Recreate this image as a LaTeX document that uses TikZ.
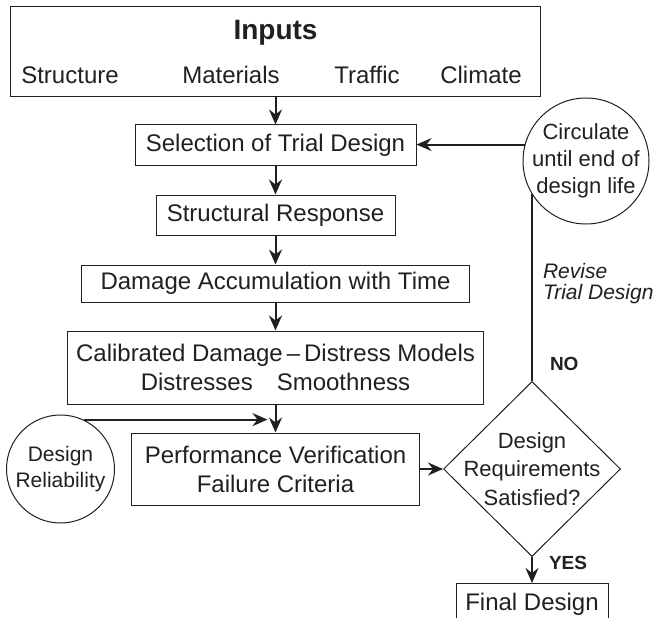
\documentclass[tikz,border=0pt]{standalone}
\usepackage{fontspec}
\setmainfont{Liberation Sans}
\usetikzlibrary{arrows.meta,positioning,shapes.geometric}
\definecolor{ink}{RGB}{35,31,32}
\tikzset{
  box/.style      = {draw=ink, rectangle, line width=1pt, inner sep=0pt, align=center,
                     font=\fontsize{24}{29}\selectfont},
  bubble/.style   = {draw=ink, circle, line width=1pt, inner sep=0pt, align=center},
  decision/.style = {draw=ink, diamond, line width=1pt, inner sep=-14pt, align=center,
                     minimum width=177pt, minimum height=175pt, font=\fontsize{22}{28.5}\selectfont},
  post/.style     = {-{Stealth[length=15pt,width=13pt,inset=5pt]}, line width=2pt, draw=ink},
  link/.style     = {line width=2pt, draw=ink},
  word/.style     = {inner sep=0pt, text=ink, font=\fontsize{24}{29}\selectfont},
  note/.style     = {inner sep=0pt, text=ink, align=left, font=\fontsize{21}{21}\selectfont\itshape},
  answer/.style   = {inner sep=0pt, text=ink, font=\fontsize{19}{23}\selectfont\bfseries}
}

\begin{document}
\begin{tikzpicture}[x=1pt, y=-1pt, node distance=28pt, text=ink]
  \useasboundingbox (0,0) rectangle (657,618);
  % inputs
  \node[box, minimum width=530pt, minimum height=90pt] (inputs) at (275.5,52) {};
  \node[word, font=\fontsize{28}{34}\selectfont\bfseries] (title) at (275.5,33) {Inputs};
  \node[word] (structure) at (70,75)  {Structure};
  \node[word] (materials) at (231,75) {Materials};
  \node[word] (traffic)   at (367,75) {Traffic};
  \node[word] (climate)   at (481,75) {Climate};
  % main chain
  \node[box, minimum width=281pt, minimum height=41pt] (select) [below=27pt of inputs]
    {Selection of Trial Design};
  \node[box, minimum width=239pt, minimum height=40pt] (response) [below=of select]
    {Structural Response};
  \node[box, minimum width=388pt, minimum height=37pt] (damage) [below=29pt of response]
    {Damage Accumulation with Time};
  \node[box, minimum width=416pt, minimum height=73pt] (calib) [below=of damage]
    {Calibrated Damage\,--\,Distress Models\\Distresses\hspace{24pt}Smoothness};
  \node[box, minimum width=288pt, minimum height=72pt] (perf) [below=of calib]
    {Performance Verification\\Failure Criteria};
  % side nodes
  \node[bubble, minimum size=108pt, font=\fontsize{21}{26}\selectfont] (rel) [left=16pt of perf]
    {Design\\Reliability};
  \node[decision] (decide) [right=23pt of perf] {Design\\Requirements\\Satisfied?};
  \node[box, minimum width=152pt, minimum height=42pt] (final) [below=26pt of decide]
    {Final Design};
  \node[bubble, minimum size=126pt, inner sep=-4pt, font=\fontsize{22}{27}\selectfont] (circ)
    at (586,161) {Circulate\\until end of\\design life};
  \coordinate (join) at ([xshift=-8pt]perf.north |- rel.65);

  % connectors
  \draw[post] (inputs) -- (select);
  \draw[post] (select) -- (response);
  \draw[post] (response) -- (damage);
  \draw[post] (damage) -- (calib);
  \draw[post] (calib) -- (perf);
  \draw[post] (rel.65) -- (join);
  \draw[post] (perf) -- (decide);
  \draw[post] (decide) -- node[answer, pos=0.22, right=16pt] {YES} (final);
  \draw[link] (decide.north) -- node[answer, pos=0.09, right=17pt] {NO}
    node[note, pos=0.52, right=10pt] {Revise\\Trial Design} (decide.north |- circ.211);
  \draw[post] (circ.165) -- (circ.165 -| select.east);
\end{tikzpicture}
\end{document}
